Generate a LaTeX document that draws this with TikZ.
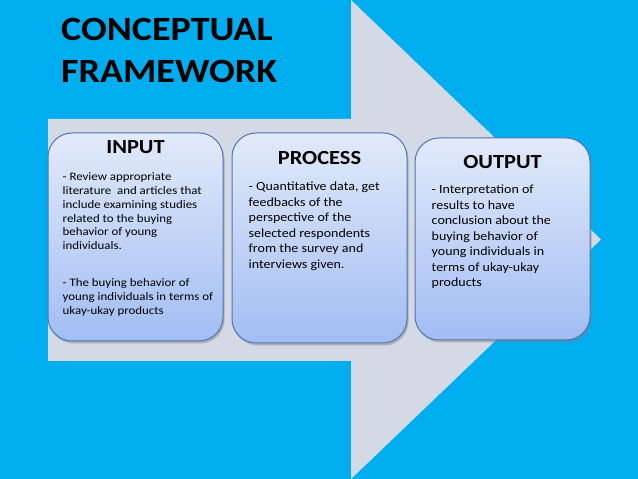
\documentclass[tikz,border=0pt]{standalone}
\usepackage{fontspec}
\setmainfont{Carlito}[FakeStretch=1.12]
\usepackage{tikz}
\usetikzlibrary{positioning, shadows}
\definecolor{SkyBack}{HTML}{00AEEF}
\definecolor{ArrowGrey}{HTML}{D3DAE5}
\definecolor{BoxTop}{HTML}{E2EAFA}
\definecolor{BoxBottom}{HTML}{A2BDF3}
\definecolor{BoxEdge}{HTML}{5175B3}
\tikzset{
  % Box styles
  framebox/.style={rectangle, rounded corners=24pt, draw=BoxEdge, line width=1pt, top color=BoxTop, bottom color=BoxBottom, minimum width=175pt, minimum height=208pt, inner sep=0pt, drop shadow={shadow xshift=1.5pt, shadow yshift=-2.5pt, opacity=0.45}},
  % Text styles
  titletext/.style={font=\fontsize{34}{42}\selectfont\bfseries, align=left, inner sep=0pt},
  headtext/.style={font=\fontsize{20}{24}\selectfont\bfseries, inner sep=0pt},
  bodytext/.style={align=left, inner sep=0pt}
}
\begin{document}
\begin{tikzpicture}[x=1pt, y=1pt]
  % Background and big arrow
  \fill[SkyBack] (0,0) rectangle (638,479);
  \fill[ArrowGrey] (48,360) -- (351,360) -- (351,479) -- (601,239.5) -- (351,0) -- (351,118) -- (48,118) -- cycle;

  % Title
  \node[titletext, anchor=north west] (title) at (61,461) {CONCEPTUAL\\FRAMEWORK};

  % Stage boxes
  \node[framebox] (inbox) at (135.5,242) {};
  \node[framebox, minimum height=210pt, below right=0pt and 8pt of inbox.north east] (procbox) {};
  \node[framebox, minimum height=202pt, below right=5pt and 7pt of procbox.north east] (outbox) {};

  % Headings
  \node[headtext, below=7.5pt of inbox.north] (inhead) {INPUT};
  \node[headtext, below=18.5pt of procbox.north] (prochead) {PROCESS};
  \node[headtext, below=17.5pt of outbox.north] (outhead) {OUTPUT};

  % Contents
  \node[bodytext, font=\fontsize{11.5}{13.8}\selectfont, below right=40pt and 15pt of inbox.north west] (inbody) {- Review appropriate\\literature~ and articles that\\include examining studies\\related to the buying\\behavior of young\\individuals.\\[23pt]- The buying behavior of\\young individuals in terms of\\ukay-ukay products};

  \node[bodytext, font=\fontsize{12.5}{15.5}\selectfont, below right=49.6pt and 17pt of procbox.north west] (procbody) {- Quantitative data, get\\feedbacks of the\\perspective of the\\selected respondents\\from the survey and\\interviews given.};

  \node[bodytext, font=\fontsize{12.5}{15.5}\selectfont, below right=47.6pt and 17pt of outbox.north west] (outbody) {- Interpretation of\\results to have\\conclusion about the\\buying behavior of\\young individuals in\\terms of ukay-ukay\\products};
\end{tikzpicture}
\end{document}
